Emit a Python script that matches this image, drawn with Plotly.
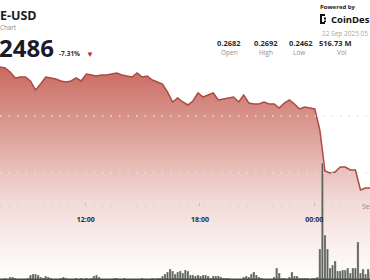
import plotly.graph_objects as go
import pandas as pd

W, H = 370, 280

# ---------------- data ----------------
price_start = "2025-09-21 07:30"
price_step = "16min"
price = [
    0.26860, 0.26842, 0.26772, 0.26667, 0.26684, 0.26684, 0.26614, 0.26456, 0.26561, 0.26684,
    0.26667, 0.26649, 0.26614, 0.26596, 0.26614, 0.26667, 0.26614, 0.26737, 0.26719, 0.26702,
    0.26719, 0.26719, 0.26737, 0.26754, 0.26719, 0.26702, 0.26684, 0.26754, 0.26684, 0.26702,
    0.26632, 0.26596, 0.26561, 0.26421, 0.26246, 0.26316, 0.26246, 0.26193, 0.26263, 0.26404,
    0.26333, 0.26368, 0.26404, 0.26281, 0.26298, 0.26316, 0.26333, 0.26246, 0.26368, 0.26228,
    0.26211, 0.26211, 0.26246, 0.26211, 0.26211, 0.26140, 0.26228, 0.26281, 0.26211, 0.26123,
    0.26158, 0.26140, 0.26123, 0.25754, 0.25035, 0.25000, 0.25018, 0.25105, 0.25105, 0.25053,
    0.25053, 0.24702, 0.24737, 0.24737,
]

vol_start = "2025-09-21 07:30"
vol_step = "8min"
volume_m = [
    0.4, 0.4, 0.8, 0.4, 1.2, 1.2, 0.8, 0.4, 0.4, 0.4,
    0.4, 0.8, 2.0, 2.4, 2.4, 2.0, 1.2, 0.8, 1.6, 1.2,
    0.8, 0.4, 0.4, 0.4, 0.8, 1.2, 0.8, 0.4, 0.4, 0.4,
    0.8, 0.4, 0.8, 0.4, 0.8, 0.4, 0.8, 1.6, 2.0, 1.2,
    0.4, 0.4, 0.4, 0.4, 0.4, 0.8, 0.8, 0.4, 0.4, 0.8,
    0.4, 0.4, 0.4, 0.4, 0.4, 0.4, 0.8, 0.4, 0.4, 0.4,
    0.8, 0.4, 0.8, 0.8, 1.6, 2.4, 3.2, 4.4, 3.6, 2.4,
    3.2, 3.6, 2.8, 4.0, 3.6, 2.0, 2.0, 1.6, 2.0, 1.6,
    2.0, 2.0, 1.6, 0.8, 1.6, 1.6, 1.6, 1.2, 0.8, 0.8,
    0.8, 0.4, 0.4, 0.4, 0.4, 0.4, 1.2, 1.6, 1.2, 2.4,
    3.2, 2.0, 1.2, 0.8, 0.4, 0.4, 0.4, 0.4, 1.2, 4.8,
    2.8, 0.8, 0.8, 0.4, 1.2, 3.2, 1.6, 1.6, 0.8, 0.8,
    0.8, 0.8, 0.4, 0.8, 0.8, 1.2, 12.4, 46.8, 18.0, 12.4,
    4.8, 6.0, 7.6, 3.6, 3.6, 4.0, 4.0, 4.8, 2.8, 4.8,
    4.8, 15.2, 2.8, 4.4, 2.4, 4.4, 3.2,
]

x_range = ["2025-09-21 07:30", "2025-09-22 02:56"]
tick_vals = ["2025-09-21 12:00", "2025-09-21 18:00", "2025-09-22 00:00"]
tick_text = ["12:00", "18:00", "00:00"]
grid_prices = [0.25, 0.26]
axis_price = 0.24421
price_range = [0.23123, 0.28035]
vol_range = [0, 112]

title_text = "E-USD"
subtitle_text = "Chart"
last_price_text = "2486"
change_text = "-7.31%"
stats_values = ["0.2682", "0.2692", "0.2462", "516.73 M"]
stats_labels = ["Open", "High", "Low", "Vol"]

# ---------------- figure ----------------
t_price = pd.date_range(price_start, periods=len(price), freq=price_step)
t_vol = pd.date_range(vol_start, periods=len(volume_m), freq=vol_step)

fig = go.Figure()
fig.add_trace(go.Scatter(
    x=t_price, y=price, mode="lines", fill="tozeroy",
    line=dict(color="#ab4a42", width=1.5),
    fillgradient=dict(
        type="vertical", start=price_range[0], stop=0.2686,
        colorscale=[[0, "#ffffff"], [0.14, "#fbf2f1"], [0.376, "#f2d9d6"],
                    [0.657, "#dfa69f"], [1, "#c96a60"]],
    ),
    yaxis="y", hoverinfo="skip",
))
fig.add_trace(go.Bar(
    x=t_vol, y=volume_m, yaxis="y2",
    marker=dict(color="#5f635c", line=dict(color="rgba(255,255,255,0.55)", width=0.5)),
    hoverinfo="skip",
))

shapes = []
for g in grid_prices:
    shapes.append(dict(type="line", xref="paper", yref="y", x0=0, x1=1, y0=g, y1=g,
                       line=dict(color="#e2e2e2", width=1.3, dash="1.5px,7px"), layer="above"))
shapes.append(dict(type="line", xref="paper", yref="y", x0=0, x1=1, y0=axis_price, y1=axis_price,
                   line=dict(color="#d4d4d4", width=1.3, dash="1.5px,7px"), layer="above"))
shapes.append(dict(type="line", xref="paper", yref="paper", x0=0, x1=1, y0=0.003, y1=0.003,
                   line=dict(color="#4a4d47", width=1.5), layer="above"))


def px(x):
    return x / W


def py(y):
    return 1 - y / H


# CoinDesk logo mark
logo_color = "#111111"
for (x0, y0, x1, y1) in [(320, 14, 322, 24), (320, 14, 325, 16), (320, 22, 325, 24),
                         (324, 17.5, 326, 19.5), (324, 20.5, 326, 22)]:
    shapes.append(dict(type="rect", xref="paper", yref="paper", x0=px(x0), x1=px(x1),
                       y0=py(y1), y1=py(y0), fillcolor=logo_color, line=dict(width=0)))

FONT = "Open Sans"


def ann(text, x, y, size, color, xanchor="left", weight="normal"):
    return dict(text=text, x=px(x), y=py(y), xref="paper", yref="paper",
                xanchor=xanchor, yanchor="middle", showarrow=False, borderpad=0,
                font=dict(size=size, color=color, family=FONT, weight=weight))


annotations = [
    ann(title_text, -1, 15.3, 12.5, "#1b1b27", weight="bold"),
    ann(subtitle_text, -1, 27.5, 6.2, "#8a8a8a"),
    ann(last_price_text, -2, 47.5, 24, "#1b1b27", weight="bold"),
    ann(change_text, 58, 53, 6.5, "#333333", weight="bold"),
    ann("▼", 85, 53, 8, "#c0302a"),
    ann("Powered by", 319, 6.5, 6, "#222222", weight="bold"),
    ann("CoinDes", 330, 19.5, 9.5, "#111111", weight="bold"),
    ann("22 Sep 2025 05", 321, 33, 6.5, "#a8a8a8"),
    ann("Se", 361, 206, 7, "#8a8a8a"),
]
stat_centers = [229, 266, 300.5, 335]
label_centers = [229, 266, 299, 342]
for v, l, cx, lx in zip(stats_values, stats_labels, stat_centers, label_centers):
    annotations.append(ann(v, cx, 42.7, 7.5, "#2a2a2a", xanchor="center", weight="bold"))
    annotations.append(ann(l, lx, 52.5, 6.5, "#8f8f8f", xanchor="center"))

fig.update_layout(
    width=W, height=H, margin=dict(l=0, r=0, t=0, b=0),
    paper_bgcolor="white", plot_bgcolor="white", showlegend=False,
    bargap=0.12,
    xaxis=dict(type="date", range=x_range, anchor="free", position=(H - 206) / H,
               showgrid=False, zeroline=False, showline=False,
               ticks="inside", ticklen=3, tickwidth=1, tickcolor="#bdbdbd",
               tickvals=tick_vals, ticktext=tick_text, ticklabelstandoff=8,
               tickfont=dict(size=7, color="#2c2c2c", family=FONT, weight="bold"),
               fixedrange=True),
    yaxis=dict(range=price_range, visible=False, fixedrange=True),
    yaxis2=dict(range=vol_range, overlaying="y", visible=False, fixedrange=True),
    shapes=shapes, annotations=annotations,
)

fig.write_html("out.html")
